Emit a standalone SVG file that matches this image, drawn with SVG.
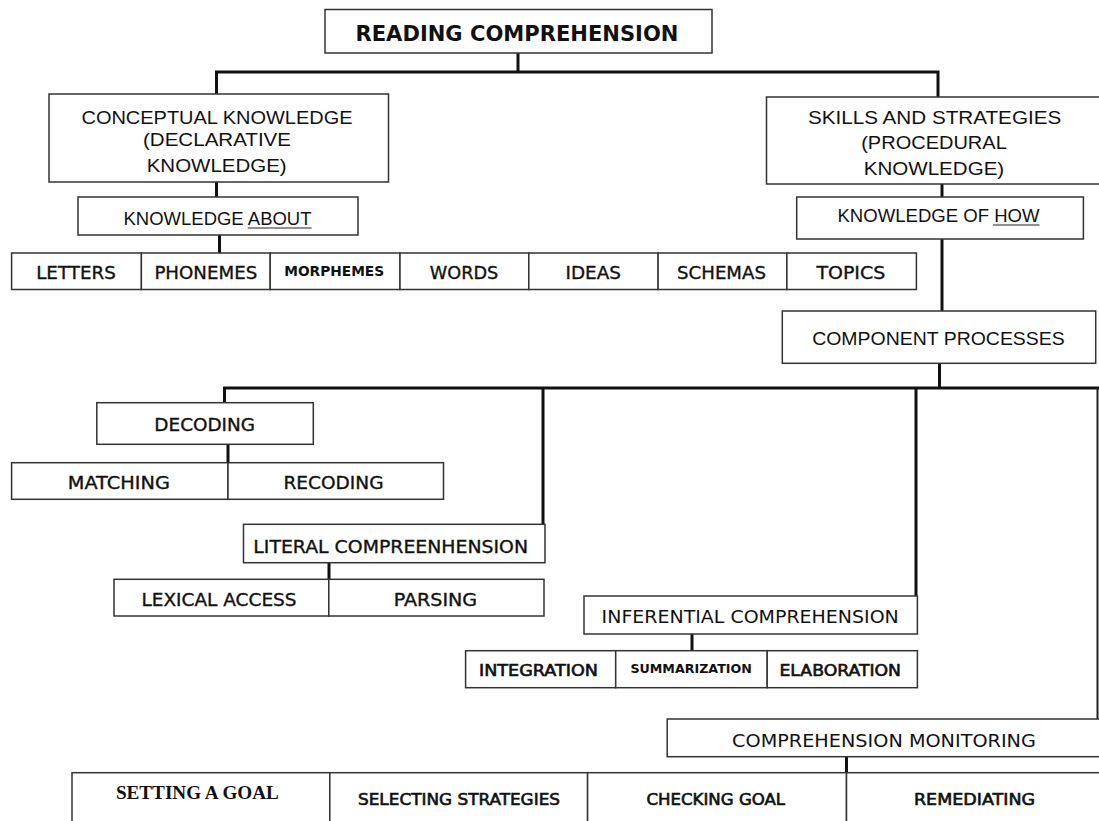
<svg xmlns="http://www.w3.org/2000/svg" width="1099" height="821" viewBox="0 0 1099 821">
<style>
.bg{fill:#fff}
.box{fill:#fff;stroke:#333;stroke-width:1.5}
.con{fill:none;stroke:#111;stroke-width:3}
.thin{fill:none;stroke:#222;stroke-width:2}
.ul{stroke:#222;stroke-width:1.2}
text{fill:#111;text-anchor:middle}
.title{font-family:"DejaVu Sans",sans-serif;font-weight:bold;font-size:21px}
.ar{font-family:"Liberation Sans",Arial,sans-serif;font-size:19px}
.vd{font-family:"DejaVu Sans",Verdana,sans-serif;font-size:17px;stroke:#111;stroke-width:0.35}
.vds{font-family:"DejaVu Sans",Verdana,sans-serif;font-size:14px;font-weight:bold}
.px{font-family:"DejaVu Sans",sans-serif;font-size:17px}
.pxb{font-family:"DejaVu Sans",sans-serif;font-size:15px;stroke:#111;stroke-width:0.6}
.pxs{font-family:"DejaVu Sans",sans-serif;font-size:12.5px;font-weight:bold}
.sf{font-family:"Liberation Serif","Times New Roman",serif;font-size:18px;font-weight:bold}
</style>
<rect class="bg" x="0" y="0" width="1099" height="821"/>
<g id="connectors">
<path class="con" d="M518,53 V72 M215,72 H939.5 M216.5,72 V94 M938,72 V97"/>
<path class="con" d="M216.5,182 V197"/>
<path class="con" d="M219.5,235 V253"/>
<path class="con" d="M942,184 V197"/>
<path class="con" d="M942,239 V311"/>
<path class="con" d="M939.5,363 V388 M223,388 H1099 M224.5,388 V403 M543,388 V524 M916,388 V596"/>
<path class="thin" d="M1097.5,388 V719"/>
<path class="con" d="M228,444 V463"/>
<path class="con" d="M329,563 V579"/>
<path class="con" d="M692,634 V651"/>
<path class="con" d="M846.5,757 V773"/>
</g>
<g id="reading-comprehension">
<rect class="box" x="325" y="9.5" width="387" height="43.5"/>
<text class="title" x="517" y="41" textLength="323" lengthAdjust="spacingAndGlyphs">READING COMPREHENSION</text>
</g>
<g id="conceptual-knowledge">
<rect class="box" x="49" y="94" width="339.5" height="88"/>
<text class="ar" x="217" y="123.5" textLength="271" lengthAdjust="spacingAndGlyphs">CONCEPTUAL KNOWLEDGE</text>
<text class="ar" x="217" y="146" textLength="148" lengthAdjust="spacingAndGlyphs">(DECLARATIVE</text>
<text class="ar" x="216.7" y="172" textLength="140" lengthAdjust="spacingAndGlyphs">KNOWLEDGE)</text>
</g>
<g id="knowledge-about">
<rect class="box" x="78" y="197" width="280" height="38"/>
<text class="ar" x="217.5" y="225" textLength="188" lengthAdjust="spacingAndGlyphs">KNOWLEDGE ABOUT</text>
<line class="ul" x1="247.7" y1="228" x2="311.6" y2="228"/>
</g>
<g id="letters"><rect class="box" x="11.6" y="253" width="129.8" height="36.5"/><text class="vd" x="76" y="279" textLength="79.6" lengthAdjust="spacingAndGlyphs">LETTERS</text></g>
<g id="phonemes"><rect class="box" x="141.4" y="253" width="128.8" height="36.5"/><text class="vd" x="205.8" y="279" textLength="102.8" lengthAdjust="spacingAndGlyphs">PHONEMES</text></g>
<g id="morphemes"><rect class="box" x="270.2" y="253" width="129.8" height="36.5"/><text class="vds" x="334.2" y="275.8" textLength="100" lengthAdjust="spacingAndGlyphs">MORPHEMES</text></g>
<g id="words"><rect class="box" x="400" y="253" width="128.8" height="36.5"/><text class="vd" x="464" y="279" textLength="68.4" lengthAdjust="spacingAndGlyphs">WORDS</text></g>
<g id="ideas"><rect class="box" x="528.8" y="253" width="129.3" height="36.5"/><text class="vd" x="593.2" y="279" textLength="55.4" lengthAdjust="spacingAndGlyphs">IDEAS</text></g>
<g id="schemas"><rect class="box" x="658.1" y="253" width="128.8" height="36.5"/><text class="vd" x="721.5" y="279" textLength="88.8" lengthAdjust="spacingAndGlyphs">SCHEMAS</text></g>
<g id="topics"><rect class="box" x="786.9" y="253" width="129.5" height="36.5"/><text class="vd" x="850.8" y="279" textLength="68.8" lengthAdjust="spacingAndGlyphs">TOPICS</text></g>
<g id="skills-and-strategies">
<rect class="box" x="766.5" y="97" width="340" height="87"/>
<text class="ar" x="934.6" y="124" textLength="253.4" lengthAdjust="spacingAndGlyphs">SKILLS AND STRATEGIES</text>
<text class="ar" x="934" y="148.5" textLength="145.6" lengthAdjust="spacingAndGlyphs">(PROCEDURAL</text>
<text class="ar" x="934" y="175" textLength="140.4" lengthAdjust="spacingAndGlyphs">KNOWLEDGE)</text>
</g>
<g id="knowledge-of-how">
<rect class="box" x="796.7" y="197" width="286.7" height="42"/>
<text class="ar" x="938.5" y="222" textLength="202" lengthAdjust="spacingAndGlyphs">KNOWLEDGE OF HOW</text>
<line class="ul" x1="992.9" y1="225" x2="1039.5" y2="225"/>
</g>
<g id="component-processes">
<rect class="box" x="782.3" y="311" width="313.4" height="52.3"/>
<text class="ar" x="938.5" y="345" textLength="252.6" lengthAdjust="spacingAndGlyphs">COMPONENT PROCESSES</text>
</g>
<g id="decoding">
<rect class="box" x="96.8" y="402.7" width="216.5" height="41.6"/>
<text class="vd" x="204.7" y="430.5" textLength="100.7" lengthAdjust="spacingAndGlyphs">DECODING</text>
</g>
<g id="matching"><rect class="box" x="11.6" y="462.7" width="216.4" height="36.6"/><text class="vd" x="118.8" y="489" textLength="102.1" lengthAdjust="spacingAndGlyphs">MATCHING</text></g>
<g id="recoding"><rect class="box" x="228" y="462.7" width="215.5" height="36.6"/><text class="vd" x="333.5" y="489" textLength="100" lengthAdjust="spacingAndGlyphs">RECODING</text></g>
<g id="literal-comprehension">
<rect class="box" x="243.5" y="524.3" width="301.5" height="38.4"/>
<text class="vd" x="390.7" y="553" textLength="274.7" lengthAdjust="spacingAndGlyphs">LITERAL COMPREENHENSION</text>
</g>
<g id="lexical-access"><rect class="box" x="114" y="579.3" width="214.8" height="36.7"/><text class="vd" x="219" y="605.5" textLength="155" lengthAdjust="spacingAndGlyphs">LEXICAL ACCESS</text></g>
<g id="parsing"><rect class="box" x="328.8" y="579.3" width="215.2" height="36.7"/><text class="vd" x="435.4" y="605.5" textLength="83.5" lengthAdjust="spacingAndGlyphs">PARSING</text></g>
<g id="inferential-comprehension">
<rect class="box" x="584" y="596" width="333.4" height="38"/>
<text class="px" x="750.2" y="623" textLength="297.2" lengthAdjust="spacingAndGlyphs">INFERENTIAL COMPREHENSION</text>
</g>
<g id="integration"><rect class="box" x="465.6" y="650.7" width="150.1" height="37"/><text class="pxb" x="538.5" y="675.5" textLength="119" lengthAdjust="spacingAndGlyphs">INTEGRATION</text></g>
<g id="summarization"><rect class="box" x="615.7" y="650.7" width="151.5" height="37"/><text class="pxs" x="691.1" y="673" textLength="121.4" lengthAdjust="spacingAndGlyphs">SUMMARIZATION</text></g>
<g id="elaboration"><rect class="box" x="767.2" y="650.7" width="150.2" height="37"/><text class="pxb" x="840.2" y="675.5" textLength="121.4" lengthAdjust="spacingAndGlyphs">ELABORATION</text></g>
<g id="comprehension-monitoring">
<rect class="box" x="667.2" y="719" width="440" height="37.7"/>
<text class="px" x="884" y="746.5" textLength="303.8" lengthAdjust="spacingAndGlyphs">COMPREHENSION  MONITORING</text>
</g>
<g id="setting-a-goal"><rect class="box" x="72" y="772.7" width="257.8" height="60"/><text class="sf" x="197.4" y="799" textLength="163" lengthAdjust="spacingAndGlyphs">SETTING A GOAL</text></g>
<g id="selecting-strategies"><rect class="box" x="329.8" y="772.7" width="257.8" height="60"/><text class="pxb" x="459" y="804.5" textLength="202" lengthAdjust="spacingAndGlyphs">SELECTING STRATEGIES</text></g>
<g id="checking-goal"><rect class="box" x="587.6" y="772.7" width="258.9" height="60"/><text class="pxb" x="715.8" y="804.5" textLength="138.6" lengthAdjust="spacingAndGlyphs">CHECKING GOAL</text></g>
<g id="remediating"><rect class="box" x="846.5" y="772.7" width="260" height="60"/><text class="pxb" x="974.5" y="804.5" textLength="121.1" lengthAdjust="spacingAndGlyphs">REMEDIATING</text></g>
</svg>
